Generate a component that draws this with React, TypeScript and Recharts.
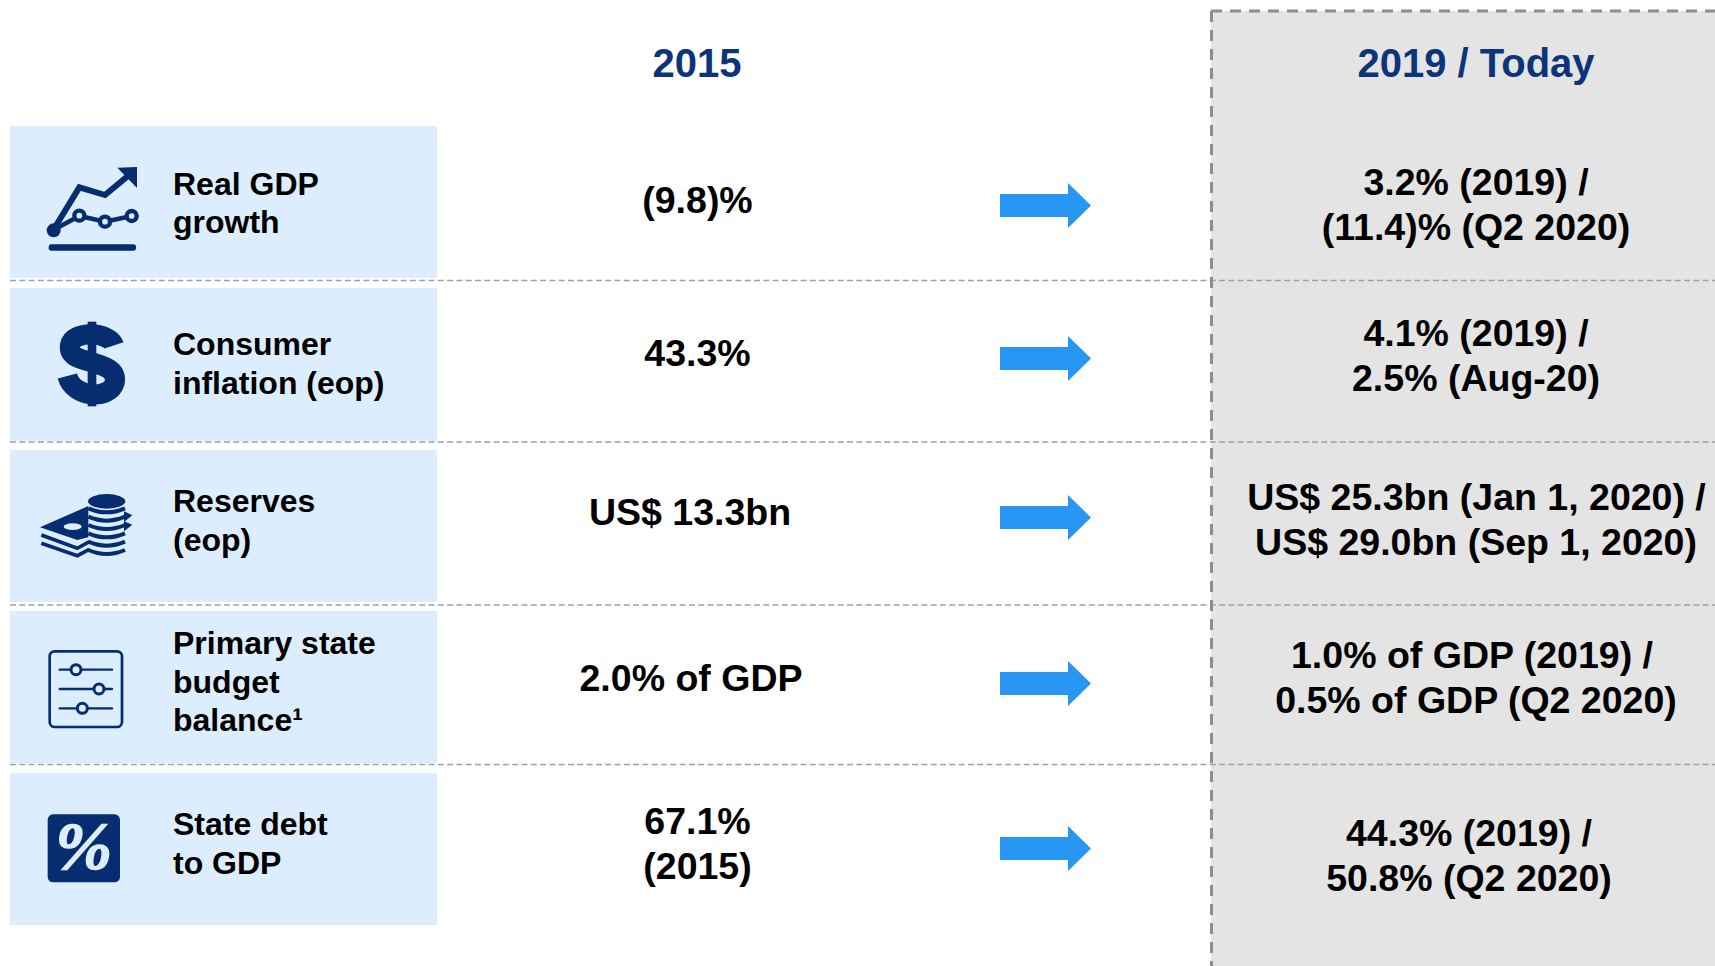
import React from "react";
import { ScatterChart, Scatter, XAxis, YAxis, ReferenceArea, ReferenceLine } from "recharts";

// ---------- content ----------
const columnHeaders = ["2015", "2019 / Today"];
const rowLabels = [
  ["Real GDP", "growth"],
  ["Consumer", "inflation (eop)"],
  ["Reserves", "(eop)"],
  ["Primary state", "budget", "balance¹"],
  ["State debt", "to GDP"],
];
const values2015 = [["(9.8)%"], ["43.3%"], ["US$ 13.3bn"], ["2.0% of GDP"], ["67.1%", "(2015)"]];
const valuesToday = [
  ["3.2% (2019) /", "(11.4)% (Q2 2020)"],
  ["4.1% (2019) /", "2.5% (Aug-20)"],
  ["US$ 25.3bn (Jan 1, 2020) /", "US$ 29.0bn (Sep 1, 2020)"],
  ["1.0% of GDP (2019) /", "0.5% of GDP (Q2 2020)"],
  ["44.3% (2019) /", "50.8% (Q2 2020)"],
];
const iconNames = ["growth", "dollar", "coins", "sliders", "percent"];

// ---------- layout, in the picture's own units ----------
const W = 1715;
const H = 966;
const panelTop = [126, 288, 450, 611, 773];
const panelBottom = [278, 441, 602, 763, 925];
const dividerY = [280.5, 442, 605, 764.5];
const labelBaseline = [194.5, 355, 512, 654, 835];
const baseline2015 = [213, 366, 525, 691, 834];
const centre2015 = [697.5, 697.5, 690, 691, 697.5];
const baselineToday = [195, 346, 510, 668, 846];
const centreToday = [[1476, 1476], [1476, 1476], [1476.5, 1476], [1472, 1476], [1469, 1469]];
const arrowY = [205.5, 358.5, 517.5, 683.5, 848.5];
const iconOrigin = [[0, 110], [0, 110], [0, 440], [0, 440], [0, 760]];

const NAVY = "#062D6F";
const PALE = "#DCEEFD";
const FONT = '"Liberation Sans", Arial, sans-serif';

const textPoints = [
  { x: 697, y: 77, lines: [columnHeaders[0]], size: 40, color: "#0B347B", anchor: "middle", lead: 0, xs: [697] },
  { x: 1476, y: 77, lines: [columnHeaders[1]], size: 40, color: "#0B347B", anchor: "middle", lead: 0, xs: [1476] },
  ...rowLabels.map((lines, i) => ({ x: 173, y: labelBaseline[i], lines, size: 32, color: "#000", anchor: "start", lead: 38.7, xs: lines.map(() => 173) })),
  ...values2015.map((lines, i) => ({ x: centre2015[i], y: baseline2015[i], lines, size: 37.5, color: "#000", anchor: "middle", lead: 45, xs: lines.map(() => centre2015[i]) })),
  ...valuesToday.map((lines, i) => ({ x: centreToday[i][1], y: baselineToday[i], lines, size: 37.5, color: "#000", anchor: "middle", lead: 45, xs: centreToday[i] })),
];
const arrowPoints = arrowY.map((y) => ({ x: 1000, y }));
const iconPoints = iconNames.map((name, i) => ({ x: iconOrigin[i][0], y: iconOrigin[i][1], name }));

// ---------- marks ----------
const TextMark = (p: any) => {
  const d = p.payload;
  return (
    <text x={p.cx} y={p.cy} textAnchor={d.anchor} fontFamily={FONT} fontWeight={700} fontSize={d.size} fill={d.color}>
      {d.lines.map((l: string, i: number) => (
        <tspan key={i} x={p.cx + d.xs[i] - d.x} y={p.cy + i * d.lead}>{l}</tspan>
      ))}
    </text>
  );
};

const ArrowMark = (p: any) => (
  <polygon
    transform={`translate(${p.cx},${p.cy})`}
    points="0,-11.5 68,-11.5 68,-22.5 91,0 68,22.5 68,11.5 0,11.5"
    fill="#2896F3"
  />
);

const GrowthIcon = () => (
  <g fill="none" stroke={NAVY} strokeLinejoin="miter">
    <polyline points="160,360 238,232 315,255 385,197" strokeWidth={18} />
    <polygon points="352,173 411,171 411,234" fill={NAVY} stroke="none" />
    <polyline points="160,360 238,318 315,335 395,318" strokeWidth={14} />
    <circle cx={238} cy={317} r={15} strokeWidth={13} fill={PALE} />
    <circle cx={315} cy={335} r={15} strokeWidth={13} fill={PALE} />
    <circle cx={395} cy={318} r={15} strokeWidth={13} fill={PALE} />
    <circle cx={161} cy={361} r={21} fill={NAVY} stroke="none" />
    <rect x={146} y={403} width={262} height={19} rx={8} fill={NAVY} stroke="none" />
  </g>
);

const DollarIcon = () => (
  <g fill="none" stroke={NAVY}>
    <rect x={263} y={635} width={26} height={254} fill={NAVY} stroke="none" />
    <path
      d="M 342 706 C 328 664 218 660 210 706 C 204 744 250 748 276 757 C 312 768 352 778 344 818 C 330 870 220 866 202 798"
      strokeWidth={60}
    />
  </g>
);

const CoinsIcon = () => (
  <g>
    <polygon points="120,262 265,198 265,292 232,300" fill={NAVY} />
    <ellipse cx={218} cy={260} rx={27} ry={10} fill={PALE} />
    <g fill="none" stroke={NAVY} strokeWidth={11}>
      <polyline points="124,285 232,325 268,305" />
      <polyline points="124,310 232,347 268,328" />
    </g>
    <polygon points="372,214 397,226 372,246" fill={NAVY} />
    <polygon points="372,244 397,254 372,274" fill={NAVY} />
    <ellipse cx={320} cy={184} rx={56} ry={22} fill={NAVY} />
    <g fill="none" stroke={NAVY} strokeWidth={12}>
      {[205, 230, 255, 280, 305, 330].map((y) => (
        <path key={y} d={`M 265 ${y} Q 320 ${y + 24} 375 ${y}`} />
      ))}
    </g>
  </g>
);

const SlidersIcon = () => (
  <g fill="none" stroke={NAVY}>
    <rect x={149} y={634} width={217} height={227} rx={15} strokeWidth={8} />
    <g strokeWidth={7} strokeLinecap="round">
      <line x1={179} x2={336} y1={689} y2={689} />
      <line x1={179} x2={336} y1={747} y2={747} />
      <line x1={179} x2={336} y1={805} y2={805} />
    </g>
    <g strokeWidth={9} fill={PALE}>
      <circle cx={228} cy={689} r={15} />
      <circle cx={297} cy={747} r={15} />
      <circle cx={247} cy={805} r={15} />
    </g>
  </g>
);

const PercentIcon = () => (
  <g>
    <rect x={143} y={163} width={217} height={204} rx={16} fill={NAVY} />
    <text x={251} y={326} textAnchor="middle" fontFamily='"Liberation Serif", serif' fontWeight={700} fontStyle="italic" fontSize={205} fill={PALE} stroke={PALE} strokeWidth={4}>%</text>
  </g>
);

const icons: Record<string, React.FC> = {
  growth: GrowthIcon,
  dollar: DollarIcon,
  coins: CoinsIcon,
  sliders: SlidersIcon,
  percent: PercentIcon,
};

// icon drawings are authored at 3x, measured from their row's origin point
const IconMark = (p: any) => {
  const Icon = icons[p.payload.name];
  return (
    <g transform={`translate(${p.cx},${p.cy}) scale(${1 / 3})`}>
      <Icon />
    </g>
  );
};

export default function App() {
  return (
    <div style={{ position: "absolute", left: 0, top: 0, width: W, height: H, background: "#fff" }}>
      <ScatterChart width={W} height={H} margin={{ top: 0, right: 0, bottom: 0, left: 0 }}>
        <XAxis type="number" dataKey="x" domain={[0, W]} hide />
        <YAxis type="number" dataKey="y" domain={[0, H]} reversed hide />

        <ReferenceArea x1={1211} x2={W} y1={11} y2={H} fill="#E4E4E4" fillOpacity={1} stroke="none" />
        {panelTop.map((t, i) => (
          <ReferenceArea key={i} x1={10} x2={437} y1={t} y2={panelBottom[i]} fill={PALE} fillOpacity={1} stroke="none" />
        ))}
        {dividerY.map((y) => (
          <ReferenceLine key={y} segment={[{ x: 10, y }, { x: W, y }]} stroke="#A0A0A0" strokeWidth={1.3} strokeDasharray="6 3.3" />
        ))}
        <ReferenceLine segment={[{ x: 1211.5, y: 11 }, { x: 1211.5, y: H }]} stroke="#8E8E8E" strokeWidth={3} strokeDasharray="11 8" />
        <ReferenceLine segment={[{ x: 1211, y: 11 }, { x: W, y: 11 }]} stroke="#8E8E8E" strokeWidth={3} strokeDasharray="11 8" />

        <Scatter data={arrowPoints} shape={ArrowMark} isAnimationActive={false} />
        <Scatter data={iconPoints} shape={IconMark} isAnimationActive={false} />
        <Scatter data={textPoints} shape={TextMark} isAnimationActive={false} />
      </ScatterChart>
    </div>
  );
}
